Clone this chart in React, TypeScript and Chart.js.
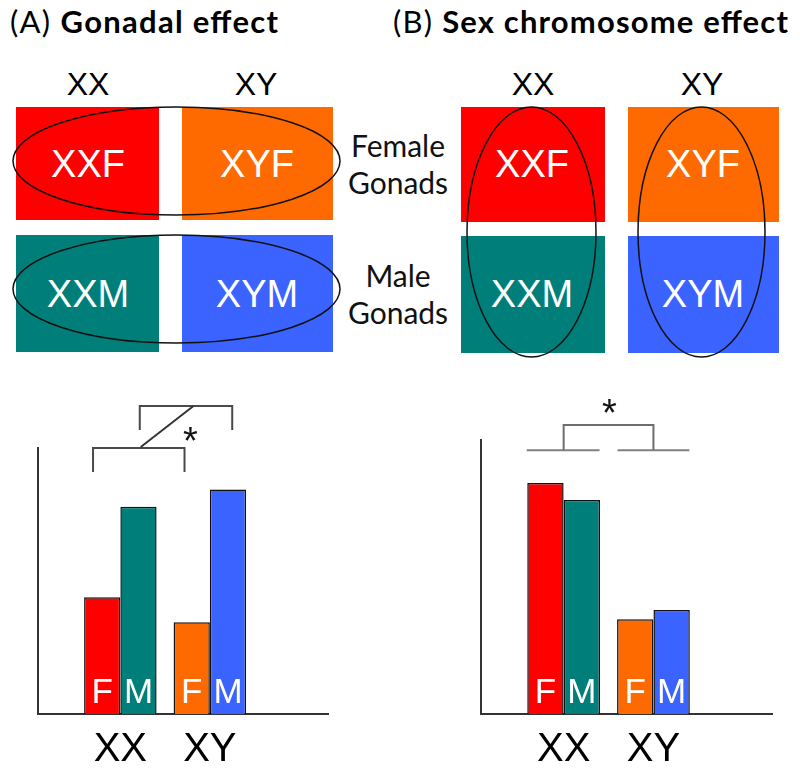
import React, { useEffect, useRef } from "react";
import { Chart, registerables } from "chart.js";

Chart.register(...registerables);

// ---- data ----
const groups = ["XX", "XY"];
const sexLetters = ["F", "M"];
const gonadalFemale = [43.9, 34.5];
const gonadalMale = [77.9, 84.4];
const chromFemale = [84.3, 34.6];
const chromMale = [78.1, 38.0];
const femaleColors = ["#FF0000", "#FF6A00"];
const maleColors = ["#007F7A", "#3A63FF"];

type Seg = { pts: [number, number][]; color: string };
type Star = { x: number; y: number };

const FONT_ARIAL = "'Liberation Sans', Arial, sans-serif";
const FONT_TITLE = "Lato, 'Open Sans', sans-serif";

function makeOverlayPlugin(segs: Seg[], star: Star) {
  return {
    id: "overlay" + Math.random().toString(36).slice(2),
    afterDatasetsDraw(chart: any) {
      const ctx = chart.ctx;
      const xs = chart.scales.x;
      const ys = chart.scales.y;
      ctx.save();
      // letters inside bars
      ctx.fillStyle = "#FFFFFF";
      ctx.font = `35px ${FONT_ARIAL}`;
      ctx.textAlign = "center";
      ctx.textBaseline = "alphabetic";
      chart.data.datasets.forEach((ds: any, di: number) => {
        const meta = chart.getDatasetMeta(di);
        meta.data.forEach((bar: any) => {
          ctx.fillText(sexLetters[di], bar.x, chart.chartArea.bottom - 11);
        });
      });
      // significance brackets
      ctx.lineWidth = 2;
      ctx.lineCap = "butt";
      segs.forEach((s) => {
        ctx.strokeStyle = s.color;
        ctx.beginPath();
        s.pts.forEach(([x, y], i) => {
          const px = xs.getPixelForValue(x);
          const py = ys.getPixelForValue(y);
          if (i === 0) ctx.moveTo(px, py);
          else ctx.lineTo(px, py);
        });
        ctx.stroke();
      });
      ctx.fillStyle = "#111111";
      ctx.font = `38px ${FONT_ARIAL}`;
      ctx.textAlign = "center";
      ctx.fillText("*", xs.getPixelForValue(star.x), ys.getPixelForValue(star.y) + 21);
      ctx.restore();
    },
  };
}

function BarPanel(props: {
  female: number[];
  male: number[];
  padding: { left: number; right: number; top: number; bottom: number };
  segs: Seg[];
  star: Star;
  style: React.CSSProperties;
}) {
  const ref = useRef<HTMLCanvasElement | null>(null);
  useEffect(() => {
    if (!ref.current) return;
    const chart = new Chart(ref.current, {
      type: "bar",
      data: {
        datasets: [
          {
            label: "F",
            data: props.female.map((v, i) => ({ x: i, y: v })),
            backgroundColor: femaleColors,
            borderColor: "#111111",
            borderWidth: 1.5,
            barPercentage: 1,
            categoryPercentage: 0.81,
          },
          {
            label: "M",
            data: props.male.map((v, i) => ({ x: i, y: v })),
            backgroundColor: maleColors,
            borderColor: "#111111",
            borderWidth: 1.5,
            barPercentage: 1,
            categoryPercentage: 0.81,
          },
        ],
      } as any,
      options: {
        animation: false,
        responsive: false,
        maintainAspectRatio: false,
        layout: { padding: props.padding },
        plugins: { legend: { display: false }, tooltip: { enabled: false } },
        scales: {
          x: {
            type: "linear",
            min: -0.92,
            max: 2.32,
            offset: false,
            grid: { display: false },
            border: { display: true, color: "#333333", width: 2 },
            afterBuildTicks: (s: any) => {
              s.ticks = groups.map((_, i) => ({ value: i }));
            },
            afterFit: (s: any) => {
              s.height = 55;
            },
            ticks: {
              padding: 4,
              color: "#000000",
              font: { family: FONT_ARIAL, size: 40 },
              maxRotation: 0,
              autoSkip: false,
              callback: (v: any) => groups[v as number] ?? "",
            },
          },
          y: {
            type: "linear",
            min: 0,
            max: 100,
            grid: { display: false },
            ticks: { display: false },
            border: { display: true, color: "#333333", width: 2 },
          },
        },
      } as any,
      plugins: [makeOverlayPlugin(props.segs, props.star)],
    });
    return () => chart.destroy();
  }, []);
  return <canvas ref={ref} width={400} height={389} style={props.style} />;
}

function TopPanels() {
  const white = { fill: "#FFFFFF", fontFamily: FONT_ARIAL, fontSize: 38, textAnchor: "middle" as const };
  const hdr = { fill: "#000000", fontFamily: FONT_ARIAL, fontSize: 32, textAnchor: "middle" as const };
  const side = { fill: "#111111", fontFamily: FONT_TITLE, fontSize: 30, textAnchor: "middle" as const };
  return (
    <svg width={800} height={370} style={{ position: "absolute", left: 0, top: 0 }}>
      <text x={10} y={33} fontFamily={FONT_TITLE} fontSize={31} fill="#000" textLength={268} lengthAdjust="spacing">
        <tspan>(A) </tspan>
        <tspan fontWeight="bold">Gonadal effect</tspan>
      </text>
      <text x={393} y={33} fontFamily={FONT_TITLE} fontSize={31} fill="#000" textLength={395} lengthAdjust="spacing">
        <tspan>(B) </tspan>
        <tspan fontWeight="bold">Sex chromosome effect</tspan>
      </text>

      {/* Panel A */}
      <text x={88} y={95} {...hdr}>XX</text>
      <text x={256} y={95} {...hdr}>XY</text>
      <rect x={16} y={107} width={143} height={113} fill={femaleColors[0]} />
      <rect x={182} y={107} width={151} height={113} fill={femaleColors[1]} />
      <rect x={16} y={235} width={143} height={117} fill={maleColors[0]} />
      <rect x={182} y={235} width={151} height={117} fill={maleColors[1]} />
      <text x={88} y={177} {...white}>XXF</text>
      <text x={257} y={177} {...white}>XYF</text>
      <text x={88} y={307} {...white}>XXM</text>
      <text x={257} y={307} {...white}>XYM</text>
      <ellipse cx={176.5} cy={161} rx={163.5} ry={54} fill="none" stroke="#111" strokeWidth={1.5} />
      <ellipse cx={176.5} cy={289} rx={163.5} ry={54} fill="none" stroke="#111" strokeWidth={1.5} />

      <text x={398} y={157} {...side}>Female</text>
      <text x={398} y={194} {...side}>Gonads</text>
      <text x={398} y={287} {...side}>Male</text>
      <text x={398} y={324} {...side}>Gonads</text>

      {/* Panel B */}
      <text x={533} y={95} {...hdr}>XX</text>
      <text x={702} y={95} {...hdr}>XY</text>
      <rect x={461} y={107} width={144} height={115} fill={femaleColors[0]} />
      <rect x={628} y={107} width={151} height={115} fill={femaleColors[1]} />
      <rect x={461} y={236} width={144} height={117} fill={maleColors[0]} />
      <rect x={628} y={236} width={151} height={117} fill={maleColors[1]} />
      <text x={532} y={177} {...white}>XXF</text>
      <text x={703} y={177} {...white}>XYF</text>
      <text x={532} y={307} {...white}>XXM</text>
      <text x={703} y={307} {...white}>XYM</text>
      <ellipse cx={531.5} cy={232} rx={64.5} ry={125} fill="none" stroke="#111" strokeWidth={1.5} />
      <ellipse cx={701.5} cy={232} rx={63.5} ry={125} fill="none" stroke="#111" strokeWidth={1.5} />
    </svg>
  );
}

const leftSegs: Seg[] = [
  { pts: [[-0.305, 91], [-0.305, 100], [0.717, 100], [0.717, 91]], color: "#4A4A4A" },
  { pts: [[0.217, 106.8], [0.217, 115.8], [1.25, 115.8], [1.25, 106.8]], color: "#4A4A4A" },
  { pts: [[0.228, 100.4], [0.817, 115.8]], color: "#333333" },
];
const rightSegs: Seg[] = [
  { pts: [[-0.411, 96.3], [0.4, 96.3]], color: "#808080" },
  { pts: [[0.6, 96.3], [1.4, 96.3]], color: "#808080" },
  { pts: [[0.0, 96.3], [0.0, 105.5], [1.0, 105.5], [1.0, 96.3]], color: "#6E6E6E" },
];

export default function App() {
  return (
    <div style={{ position: "absolute", left: 0, top: 0, width: 800, height: 769, background: "#fff", overflow: "hidden" }}>
      <TopPanels />
      <BarPanel
        female={gonadalFemale}
        male={gonadalMale}
        padding={{ left: 30, right: 72, top: 68, bottom: 0 }}
        segs={leftSegs}
        star={{ x: 0.783, y: 105.6 }}
        style={{ position: "absolute", left: 0, top: 380 }}
      />
      <BarPanel
        female={chromFemale}
        male={chromMale}
        padding={{ left: 73, right: 28, top: 60, bottom: 0 }}
        segs={rightSegs}
        star={{ x: 0.51, y: 112.6 }}
        style={{ position: "absolute", left: 400, top: 380 }}
      />
    </div>
  );
}
